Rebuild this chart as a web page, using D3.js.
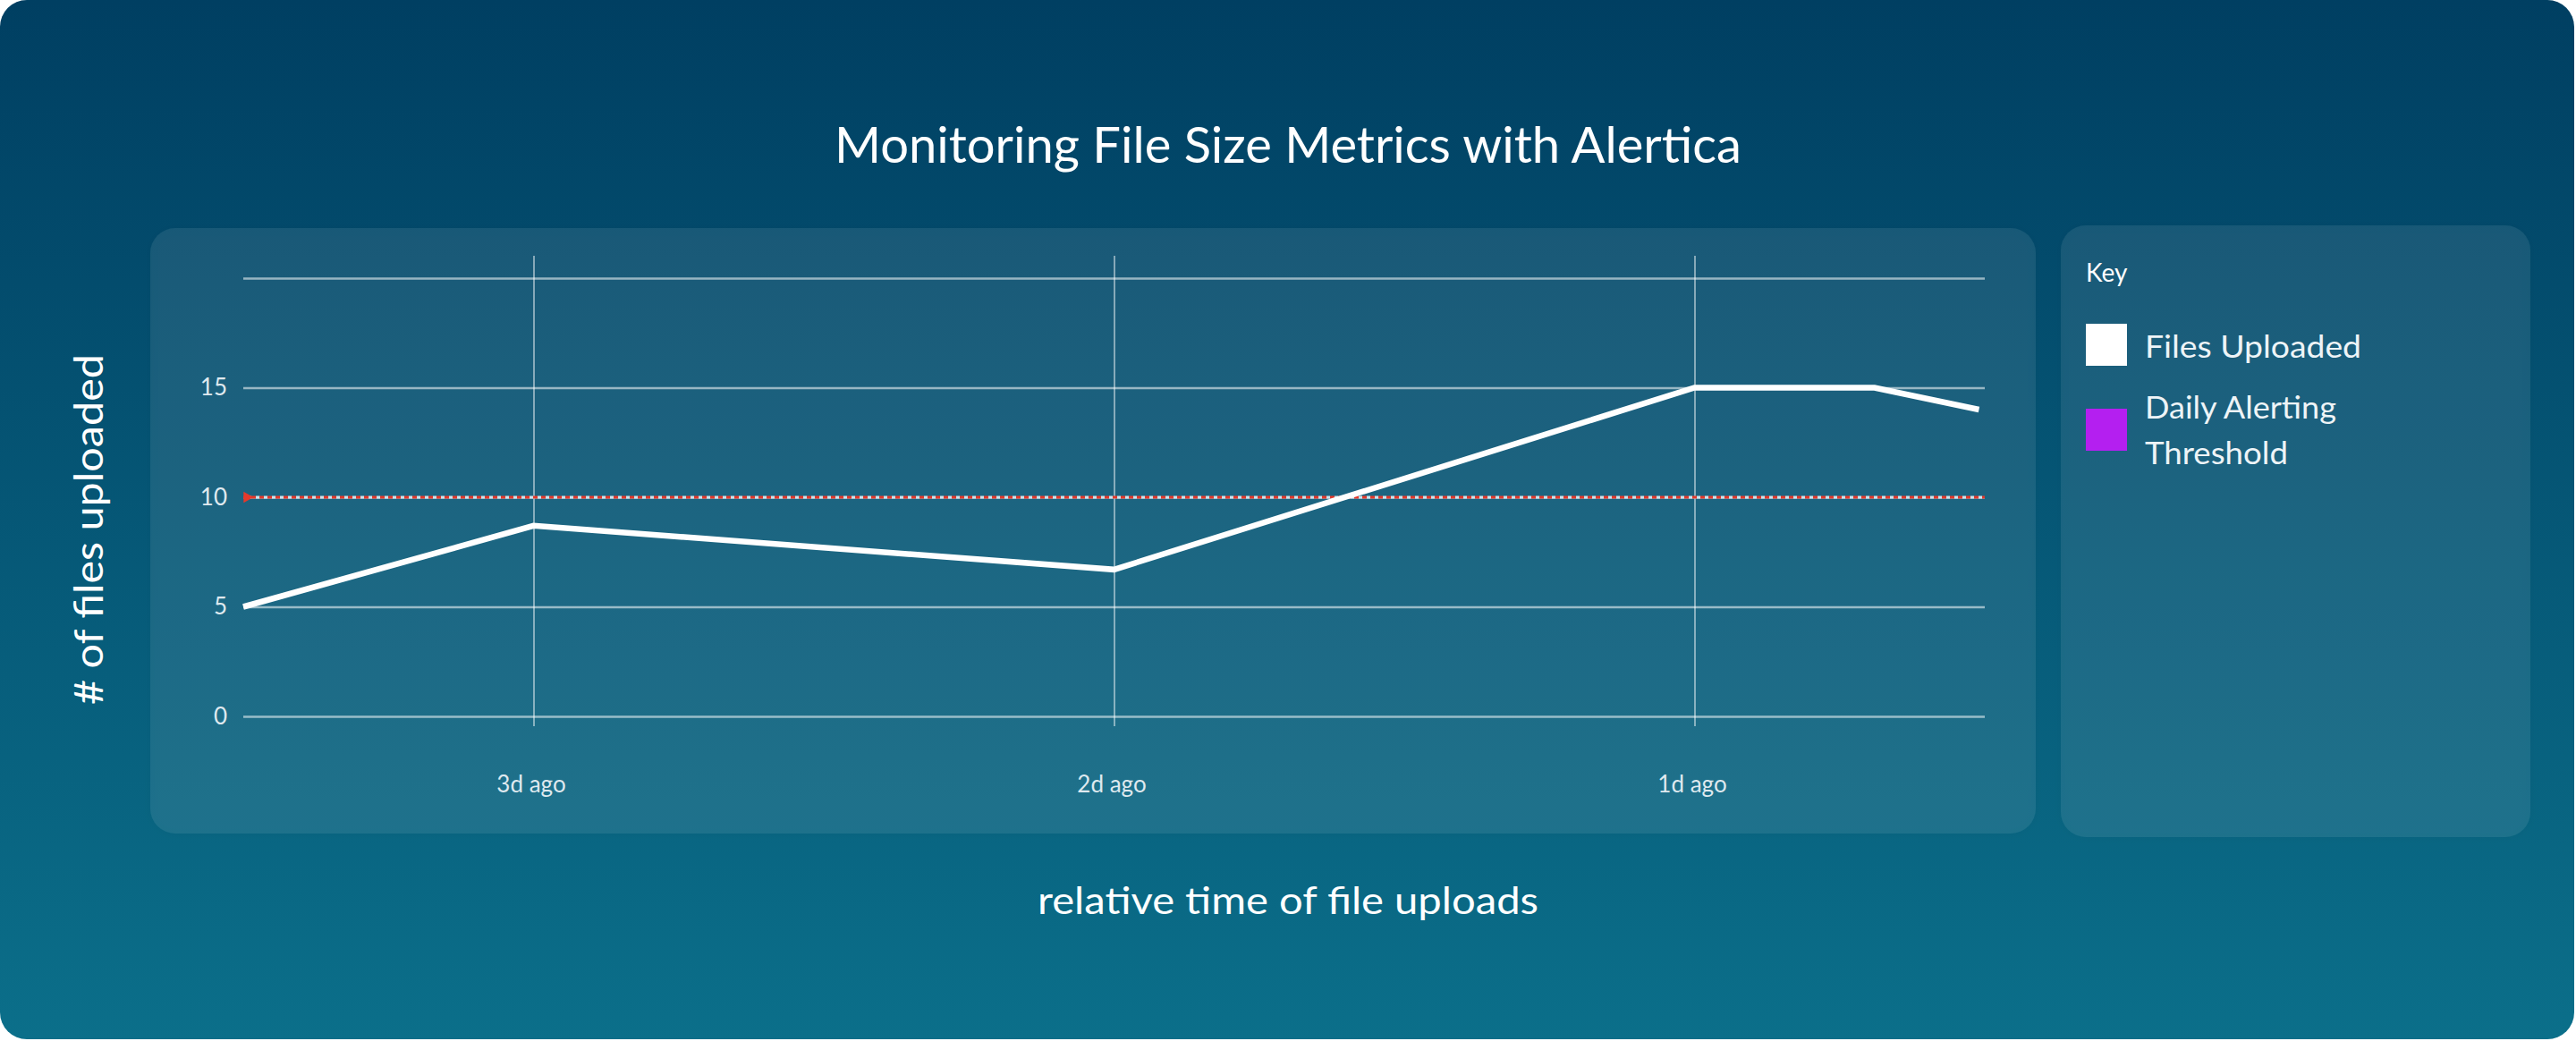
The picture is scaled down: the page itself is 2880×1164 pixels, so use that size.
<!DOCTYPE html>
<html>
<head>
<meta charset="utf-8">
<script src="https://cdn.jsdelivr.net/npm/d3@7"></script>
<style>
  html, body { margin: 0; padding: 0; background: #ffffff; }
  svg { display: block; }
</style>
</head>
<body>
<svg id="chart" width="2880" height="1164"></svg>
<script>
// ---- data ----
const daysAgo = [3.5, 3, 2, 1, 0.69, 0.51];
const filesUploaded = [5, 8.7, 6.7, 15, 15, 14];
const thresholdValue = 10;
const yTickValues = [0, 5, 10, 15];
const yGridValues = [0, 5, 10, 15, 20];
const xTickValues = [3, 2, 1];
const xTickLabels = ["3d ago", "2d ago", "1d ago"];
const legendLabels = [["Files Uploaded"], ["Daily Alerting", "Threshold"]];
const legendColors = ["#ffffff", "#b41ff0"];
const titleText = "Monitoring File Size Metrics with Alertica";
const yAxisTitle = "# of files uploaded";
const xAxisTitle = "relative time of file uploads";

const FONT = "Lato, 'Open Sans', sans-serif";
const svg = d3.select("#chart");
const defs = svg.append("defs");

const bg = defs.append("linearGradient").attr("id", "bg").attr("x1", 0).attr("y1", 0).attr("x2", 0).attr("y2", 1);
bg.append("stop").attr("offset", "0%").attr("stop-color", "#003f62");
bg.append("stop").attr("offset", "100%").attr("stop-color", "#0b6f8a");

const sh = defs.append("filter").attr("id", "shadow").attr("x", "-5%").attr("y", "-5%").attr("width", "110%").attr("height", "110%");
sh.append("feDropShadow").attr("dx", 0).attr("dy", 0).attr("stdDeviation", 5)
  .attr("flood-color", "#00304a").attr("flood-opacity", 0.45);

// outer background
svg.append("rect").attr("x", 0).attr("y", 0).attr("width", 2878).attr("height", 1162)
  .attr("rx", 30).attr("fill", "url(#bg)");

// panels
svg.append("rect").attr("x", 168).attr("y", 255).attr("width", 2108).attr("height", 677)
  .attr("rx", 28).attr("fill", "rgba(255,255,255,0.075)").attr("filter", "url(#shadow)");
svg.append("rect").attr("x", 2304).attr("y", 252).attr("width", 525).attr("height", 684)
  .attr("rx", 28).attr("fill", "rgba(255,255,255,0.075)").attr("filter", "url(#shadow)");

// title
svg.append("text").attr("x", 1440).attr("y", 182).attr("text-anchor", "middle")
  .attr("font-family", FONT).attr("font-size", 56).attr("fill", "#ffffff")
  .attr("textLength", 1014).attr("lengthAdjust", "spacingAndGlyphs")
  .text(titleText);

// scales
const x = d3.scaleLinear().domain([3.5, 0.5]).range([272, 2219]);
const y = d3.scaleLinear().domain([0, 20]).range([801, 311]);

// horizontal gridlines via axis
const yAxis = d3.axisLeft(y).tickValues(yGridValues).tickSize(-(2219 - 272))
  .tickFormat(d => yTickValues.includes(d) ? d : "").tickPadding(18);
const gy = svg.append("g").attr("transform", "translate(272,0)").call(yAxis);
gy.select(".domain").remove();
gy.selectAll(".tick line").attr("stroke", "rgba(255,255,255,0.55)").attr("stroke-width", 2.5);
gy.selectAll(".tick text").attr("fill", "#dfe9ef").attr("font-family", FONT).attr("font-size", 26);

// vertical gridlines + labels via axis
const xAxis = d3.axisBottom(x).tickValues(xTickValues).tickSize(-(812 - 286))
  .tickFormat((d, i) => xTickLabels[i]).tickPadding(56);
const gx = svg.append("g").attr("transform", "translate(0,812)").call(xAxis);
gx.select(".domain").remove();
gx.selectAll(".tick line").attr("stroke", "rgba(255,255,255,0.6)").attr("stroke-width", 1.6);
gx.selectAll(".tick text").attr("fill", "#dfe9ef").attr("font-family", FONT).attr("font-size", 26)
  .attr("dx", -3);

// threshold line
const ty = y(thresholdValue);
svg.append("line").attr("x1", x(3.5)).attr("x2", x(0.5)).attr("y1", ty).attr("y2", ty)
  .attr("stroke", "#cfe2ea").attr("stroke-width", 3).attr("stroke-dasharray", "4 5").attr("stroke-dashoffset", 4);
svg.append("line").attr("x1", x(3.5)).attr("x2", x(0.5)).attr("y1", ty).attr("y2", ty)
  .attr("stroke", "#e5392b").attr("stroke-width", 3).attr("stroke-dasharray", "5 4");
svg.append("path")
  .attr("d", d3.symbol().type(d3.symbolTriangle).size(70)())
  .attr("transform", `translate(${x(3.5) + 4},${ty}) rotate(90)`)
  .attr("fill", "#e5392b");

// data line
const line = d3.line().x((d, i) => x(daysAgo[i])).y(d => y(d));
svg.append("path").datum(filesUploaded).attr("d", line)
  .attr("fill", "none").attr("stroke", "#ffffff").attr("stroke-width", 6.5)
  .attr("stroke-linejoin", "miter");

// axis titles
svg.append("text").attr("transform", "translate(115,592) rotate(-90)").attr("text-anchor", "middle")
  .attr("font-family", FONT).attr("font-size", 44).attr("fill", "#ffffff")
  .attr("textLength", 392).attr("lengthAdjust", "spacingAndGlyphs")
  .text(yAxisTitle);
svg.append("text").attr("x", 1440).attr("y", 1022).attr("text-anchor", "middle")
  .attr("font-family", FONT).attr("font-size", 42).attr("fill", "#ffffff")
  .attr("textLength", 560).attr("lengthAdjust", "spacingAndGlyphs")
  .text(xAxisTitle);

// legend
svg.append("text").attr("x", 2332).attr("y", 315).attr("font-family", FONT)
  .attr("font-size", 28).attr("fill", "#ffffff").text("Key");
const legendTop = [362, 457];
const legendWidths = [[242], [214, 160]];
const items = svg.selectAll("g.leg").data(legendLabels).enter().append("g").attr("class", "leg");
items.append("rect").attr("x", 2332).attr("y", (d, i) => legendTop[i])
  .attr("width", 46).attr("height", 47).attr("fill", (d, i) => legendColors[i]);
items.each(function (lines, i) {
  const base = lines.length === 1 ? legendTop[i] + 38 : legendTop[i] + 11;
  lines.forEach((l, j) => {
    d3.select(this).append("text").attr("font-family", FONT).attr("font-size", 35).attr("fill", "#eef4f7")
      .attr("x", 2398).attr("y", base + j * 51)
      .attr("textLength", legendWidths[i][j]).attr("lengthAdjust", "spacingAndGlyphs")
      .text(l);
  });
});
</script>
</body>
</html>
